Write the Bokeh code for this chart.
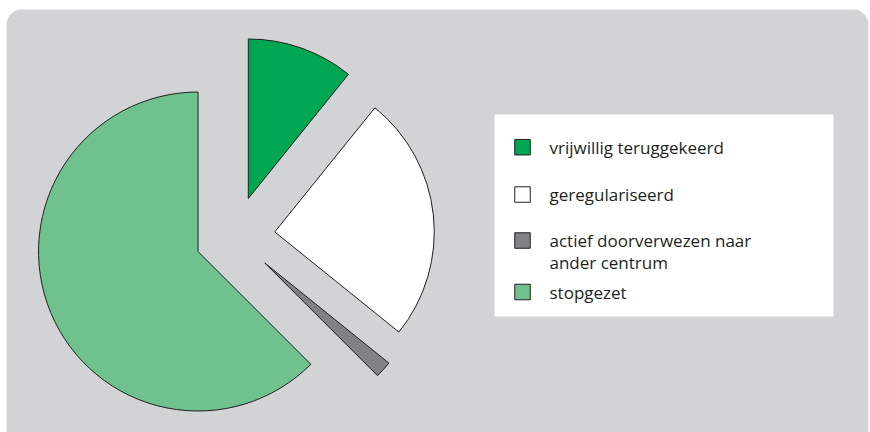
import numpy as np
from bokeh.plotting import figure
from bokeh.models import Range1d, BoxAnnotation, ColumnDataSource
from bokeh.core.properties import value
from bokeh.embed import file_html
from bokeh.resources import INLINE

# ---- data ----
categories = ["vrijwillig teruggekeerd", "geregulariseerd",
              "actief doorverwezen naar\nander centrum", "stopgezet"]
shares = [10.8, 25.0, 1.7, 62.5]
colors = ["#00a651", "#ffffff", "#808285", "#6fc28d"]

# ---- layout constants (pixels of the plot area) ----
W, H = 870, 432
CX, CY = 234.5, 196.3      # pie centre
RADIUS = 159.5
EXPLODE = 40.0
OUTLINE = "#231f20"
FONT = "Open Sans"

p = figure(width=W, height=H, x_range=Range1d(0, W), y_range=Range1d(0, H),
           output_backend="svg", toolbar_location=None, min_border=0)
p.axis.visible = False
p.grid.visible = False
p.outline_line_color = None
p.background_fill_color = "#ffffff"
p.border_fill_color = "#ffffff"

# rounded grey panel
p.add_layout(BoxAnnotation(left=6, right=868, top=423, bottom=-30,
                           fill_color="#d1d3d4", fill_alpha=1.0,
                           line_color=None, border_radius=15, level="underlay"))

# ---- exploded pie ----
vals = np.array(shares, dtype=float)
frac = vals / vals.sum()
cum = np.concatenate([[0.0], np.cumsum(frac)])
a_start = np.deg2rad(90.0 - cum[:-1] * 360.0)   # clockwise from 12 o'clock
a_end = np.deg2rad(90.0 - cum[1:] * 360.0)
mid = (a_start + a_end) / 2.0
xs = CX + EXPLODE * np.cos(mid)
ys = CY + EXPLODE * np.sin(mid)

src = ColumnDataSource(dict(x=xs, y=ys, start=a_end, end=a_start,
                            color=colors, cat=categories))
p.wedge(x="x", y="y", radius=RADIUS, start_angle="start", end_angle="end",
        direction="anticlock", fill_color="color", line_color=OUTLINE,
        line_width=1, source=src)

# ---- legend (manual) ----
LEG_L, LEG_R, LEG_T, LEG_B = 494, 833, 318, 116
p.quad(left=[LEG_L], right=[LEG_R], top=[LEG_T], bottom=[LEG_B],
       fill_color="#ffffff", line_color=None)

row_y = [285.3, 238.0, 192.0, 140.5]   # square centres
SQ_X, SQ = 522, 15.5
TXT_X = 549
LINE_H = 22
p.rect(x=[SQ_X] * len(categories), y=row_y, width=SQ, height=SQ,
       fill_color=colors, line_color=OUTLINE, line_width=1)

tx, ty, tt = [], [], []
for yc, lab in zip(row_y, categories):
    for k, line in enumerate(lab.split("\n")):
        tx.append(TXT_X)
        ty.append(yc - k * LINE_H)
        tt.append(line)
p.text(x=tx, y=ty, text=tt, text_font=value(FONT), text_font_size="17px",
       text_color="#231f20", text_baseline="middle", text_align="left")

open("out.html", "w").write(file_html(p, INLINE))
